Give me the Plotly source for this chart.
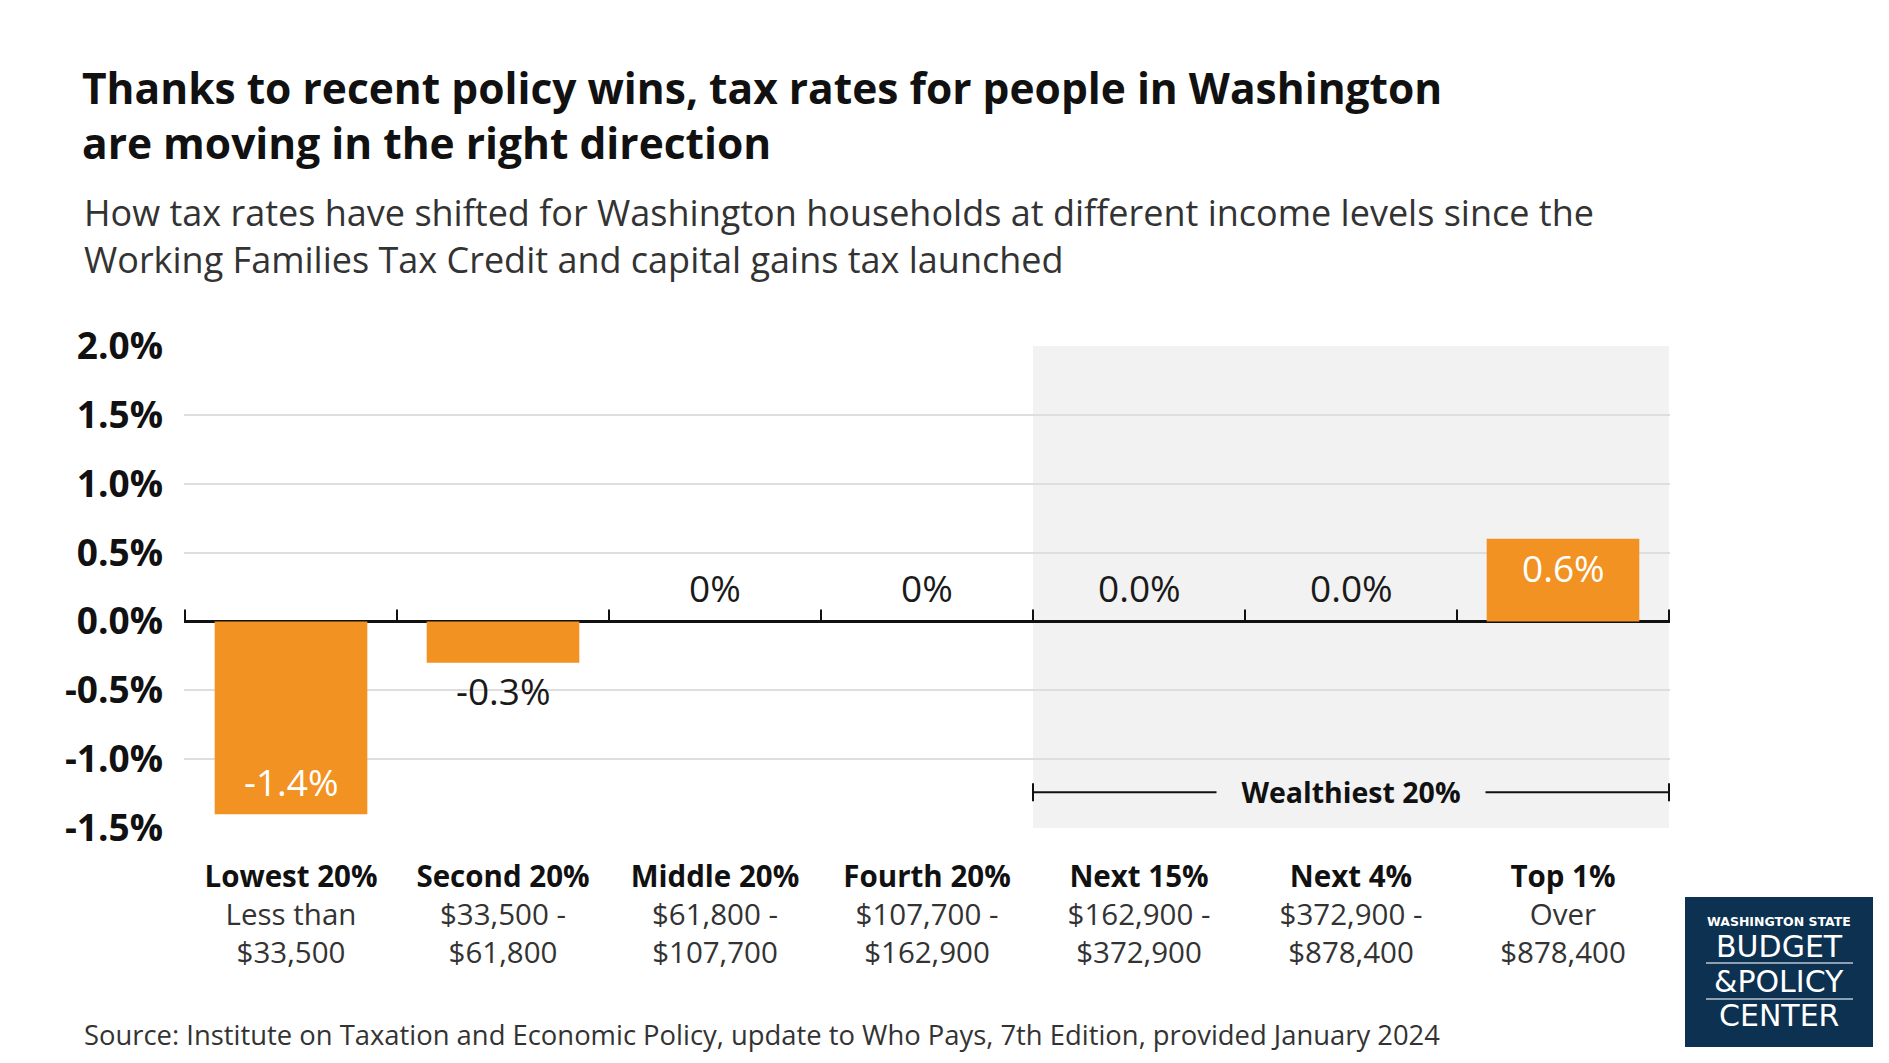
import plotly.graph_objects as go

# data (change in effective tax rate, percentage points)
categories = ["Lowest 20%", "Second 20%", "Middle 20%", "Fourth 20%", "Next 15%", "Next 4%", "Top 1%"]
income_ranges = [
    ["Less than", "$33,500"],
    ["$33,500 -", "$61,800"],
    ["$61,800 -", "$107,700"],
    ["$107,700 -", "$162,900"],
    ["$162,900 -", "$372,900"],
    ["$372,900 -", "$878,400"],
    ["Over", "$878,400"],
]
rate_change = [-1.4, -0.3, 0.0, 0.0, 0.0, 0.0, 0.6]
value_labels = ["-1.4%", "-0.3%", "0%", "0%", "0.0%", "0.0%", "0.6%"]
label_inside = [True, False, False, False, False, False, True]
y_ticks = [-1.5, -1.0, -0.5, 0.0, 0.5, 1.0, 1.5, 2.0]
wealthiest_group = ["Next 15%", "Next 4%", "Top 1%"]

FONT = "Open Sans"
ORANGE = "#F29222"
SHADE = "#F2F2F2"
NAVY = "#0D3150"

W, H = 1889, 1063
L, R, T, B = 176, 227, 338, 243


# helpers to place text outside the plot area in pixel terms
def px_x(px):
    return (px - L) / (W - L - R)


def px_y(py):
    return (H - B - py) / (H - T - B)


ticktext = [
    f"<b>{c}</b><br><span style='color:#333'>{r[0]}</span><br><span style='color:#333'>{r[1]}</span>"
    for c, r in zip(categories, income_ranges)
]

fig = go.Figure()
fig.add_trace(go.Bar(
    x=categories, y=rate_change, marker=dict(color=ORANGE, line_width=0),
    width=0.72, hoverinfo="skip",
))

shapes = []
# shaded block behind the wealthiest 20%
first = categories.index(wealthiest_group[0]) - 0.5
last = categories.index(wealthiest_group[-1]) + 0.5
shapes.append(dict(type="rect", xref="x", yref="paper", x0=first, x1=last, y0=0, y1=1,
                   fillcolor=SHADE, line_width=0, layer="below"))

# small upward ticks on the zero line at category boundaries
for i in range(len(categories) + 1):
    shapes.append(dict(type="line", xref="x", yref="y", x0=i - 0.5, x1=i - 0.5,
                       ysizemode="pixel", yanchor=0, y0=0, y1=12,
                       line=dict(color="#111", width=2)))

# bracket for "Wealthiest 20%"
bracket_y = -1.24
shapes.append(dict(type="line", xref="x", yref="y", x0=first, x1=last, y0=bracket_y, y1=bracket_y,
                   line=dict(color="#111", width=2)))
for xe in (first, last):
    shapes.append(dict(type="line", xref="x", yref="y", x0=xe, x1=xe,
                       ysizemode="pixel", yanchor=bracket_y, y0=-9, y1=9,
                       line=dict(color="#111", width=2)))

# logo box
shapes.append(dict(type="rect", xref="paper", yref="paper",
                   x0=px_x(1677), x1=px_x(1865), y0=px_y(1039), y1=px_y(889),
                   fillcolor=NAVY, line_width=0))
for ly in (955, 991):
    shapes.append(dict(type="line", xref="paper", yref="paper",
                       x0=px_x(1698), x1=px_x(1845), y0=px_y(ly), y1=px_y(ly),
                       line=dict(color="#B8C4D0", width=1.5)))

annotations = []
# bar value labels
for c, v, lab, inside in zip(categories, rate_change, value_labels, label_inside):
    if inside:
        shift = 33 if v < 0 else -29
    else:
        shift = -28 if v < 0 else 34
    annotations.append(dict(
        x=c, y=v, xref="x", yref="y", text=lab, showarrow=False,
        yanchor="middle", yshift=shift,
        font=dict(family=FONT, size=37, color="white" if inside else "#1a1a1a"),
    ))

annotations.append(dict(
    x=categories.index("Next 4%"), y=bracket_y, xref="x", yref="y",
    text="<b>Wealthiest 20%</b>", showarrow=False, bgcolor=SHADE, width=264, borderpad=2,
    font=dict(family=FONT, size=28.5, color="#111"),
))

# subtitle
annotations.append(dict(
    x=px_x(74), y=px_y(228), xref="paper", yref="paper", xanchor="left", yanchor="middle",
    align="left", showarrow=False,
    text="How tax rates have shifted for Washington households at different income levels since the<br>"
         "Working Families Tax Credit and capital gains tax launched",
    font=dict(family=FONT, size=36, color="#333"),
))
# source
annotations.append(dict(
    x=px_x(74), y=px_y(1026), xref="paper", yref="paper", xanchor="left", yanchor="middle",
    align="left", showarrow=False,
    text="Source: Institute on Taxation and Economic Policy, update to Who Pays, 7th Edition, provided January 2024",
    font=dict(family=FONT, size=27.4, color="#333"),
))
# logo text
for txt, py, size in [("<b>WASHINGTON STATE</b>", 913, 12.5), ("BUDGET", 938.5, 30),
                      ("&amp;POLICY", 973, 30), ("CENTER", 1007.5, 30)]:
    annotations.append(dict(
        x=px_x(1771), y=px_y(py), xref="paper", yref="paper", showarrow=False,
        xanchor="center", yanchor="middle", text=txt, borderpad=0,
        font=dict(family="DejaVu Sans", size=size, color="white"),
    ))

fig.update_layout(
    width=W, height=H,
    margin=dict(l=L, r=R, t=T, b=B),
    paper_bgcolor="white", plot_bgcolor="white",
    showlegend=False, bargap=0.28,
    font=dict(family=FONT, color="#111"),
    title=dict(
        text="<b>Thanks to recent policy wins, tax rates for people in Washington<br>are moving in the right direction</b>",
        x=74 / W, xanchor="left", xref="container",
        y=1 - 96 / H, yanchor="middle", yref="container",
        font=dict(family=FONT, size=42.5, color="#111"),
    ),
    xaxis=dict(
        tickmode="array", tickvals=categories, ticktext=ticktext,
        tickfont=dict(family=FONT, size=29.5, color="#111"),
        showgrid=False, showline=False, zeroline=False, ticks="",
        ticklabelstandoff=28,
    ),
    yaxis=dict(
        range=[-1.5, 2.0], tickvals=y_ticks,
        ticktext=[f"<b>{t:.1f}%</b>" for t in y_ticks],
        tickfont=dict(family=FONT, size=37, color="#111"),
        showgrid=True, gridcolor="#DEDEDE", gridwidth=2,
        zeroline=True, zerolinecolor="#111", zerolinewidth=2.5,
        showline=False, ticks="", ticklabelstandoff=20,
    ),
    shapes=shapes,
    annotations=annotations,
)

fig.write_html("out.html")
